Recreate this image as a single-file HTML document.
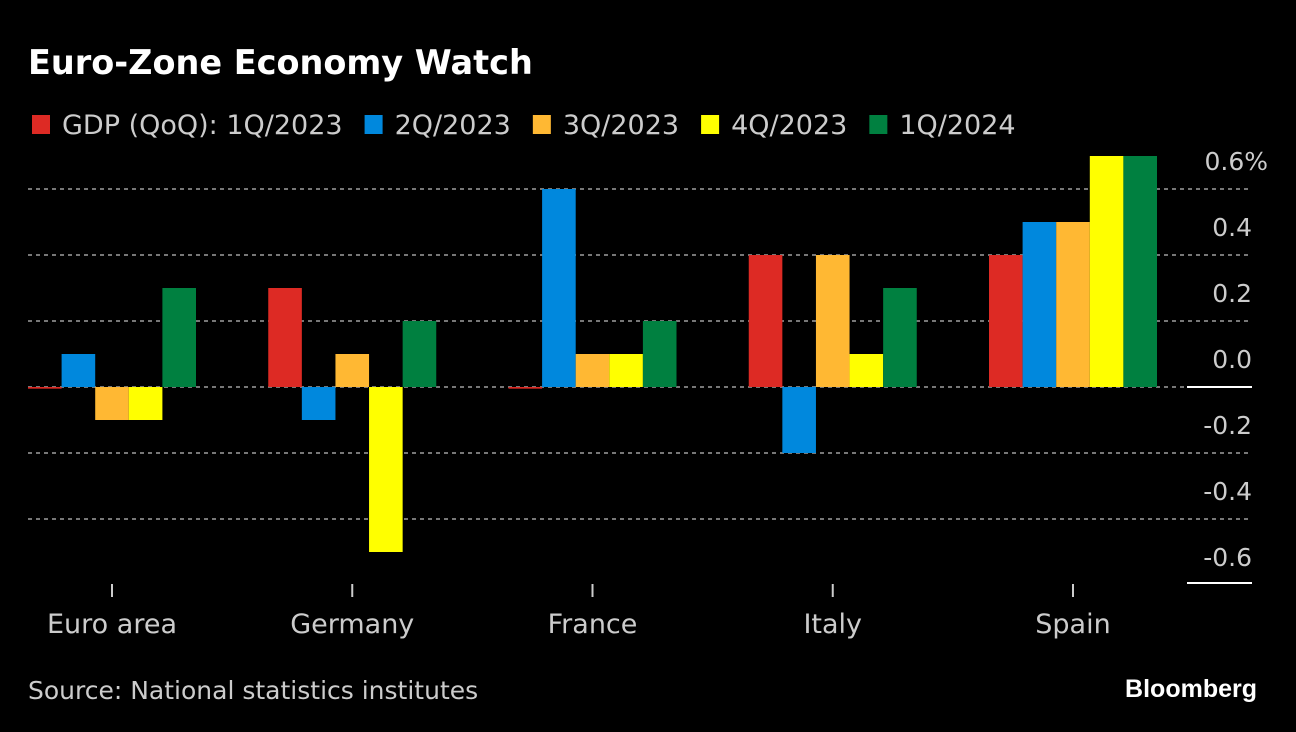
<!DOCTYPE html>
<html><head><meta charset="utf-8"><style>
body{margin:0;background:#000;width:1296px;height:732px;overflow:hidden;font-family:"Liberation Sans",sans-serif;}
svg{display:block;}
</style></head><body>
<svg width="1296" height="732" xmlns="http://www.w3.org/2000/svg">
<rect width="1296" height="732" fill="#000"/>
<text x="28" y="74" fill="#fff" font-size="33.5" font-weight="bold" font-family="DejaVu Sans, sans-serif">Euro-Zone Economy Watch</text>
<g id="legend"></g>
<g id="grid"></g>
<g id="bars"></g>
<g id="axes"></g>
<text x="28" y="699" fill="#ccc" font-size="25" font-family="DejaVu Sans, sans-serif">Source: National statistics institutes</text>
<text x="1257" y="697" fill="#fff" font-size="25" font-weight="bold" text-anchor="end">Bloomberg</text>
</svg>
<script>
const categories=["Euro area","Germany","France","Italy","Spain"];
const seriesNames=["GDP (QoQ): 1Q/2023","2Q/2023","3Q/2023","4Q/2023","1Q/2024"];
const s1Q23=[-0.005,0.3,-0.005,0.4,0.4];
const s2Q23=[0.1,-0.1,0.6,-0.2,0.5];
const s3Q23=[-0.1,0.1,0.1,0.4,0.5];
const s4Q23=[-0.1,-0.5,0.1,0.1,0.7];
const s1Q24=[0.3,0.2,0.2,0.3,0.7];
const yTicks=[0.6,0.4,0.2,0.0,-0.2,-0.4,-0.6];
const yTickLabels=["0.6%","0.4","0.2","0.0","-0.2","-0.4","-0.6"];
const series=[s1Q23,s2Q23,s3Q23,s4Q23,s1Q24];
const colors=["#dd2a24","#0088dd","#ffb833","#ffff00","#008040"];
const NS="http://www.w3.org/2000/svg";
function y(v){return 387-v*330;}
function gx(i){return 112+i*240.25;}
const bw=33.6;
function mk(t,a,p){const e=document.createElementNS(NS,t);for(const k in a)e.setAttribute(k,a[k]);document.getElementById(p).appendChild(e);return e;}
let lx=32;
seriesNames.forEach((n,i)=>{
 const r=mk('rect',{x:lx,y:115,width:18,height:19,fill:colors[i]},'legend');
 
 
 const t=mk('text',{x:lx+30,y:134,fill:'#ccc','font-size':27,'font-family':'DejaVu Sans, sans-serif'},'legend');
 t.textContent=n;
 
 
 lx+=30+t.getComputedTextLength()+22;
});
yTicks.forEach((v,i)=>{
 if(v===-0.6){
  const l=mk('line',{x1:1187,x2:1252,y1:y(v)-2,y2:y(v)-2,stroke:'#fff','stroke-width':2},'axes');
  
 } else if(v===0){
  const l=mk('line',{x1:28,x2:1187,y1:y(v),y2:y(v),stroke:'#777','stroke-width':2,'stroke-dasharray':'4 4'},'grid');
  
  const l2=mk('line',{x1:1187,x2:1252,y1:y(v),y2:y(v),stroke:'#fff','stroke-width':2},'axes');
  
 } else {
  const l=mk('line',{x1:28,x2:1252,y1:y(v),y2:y(v),stroke:'#777','stroke-width':2,'stroke-dasharray':'4 4'},'grid');
  
 }
 const t=mk('text',{x:v===0.6?1268:1252,y:y(v)-19,fill:'#ccc','font-size':25,'text-anchor':'end','font-family':'DejaVu Sans, sans-serif'},'axes');
 t.textContent=yTickLabels[i];
 
});
categories.forEach((c,i)=>{
 series.forEach((s,j)=>{
  const v=s[i];const x=gx(i)-2.5*bw+j*bw;
  const y0=Math.min(y(v),y(0)),h=Math.max(Math.abs(y(v)-y(0)),1.5);
  const r=mk('rect',{x:x,y:y0,width:bw,height:h,fill:colors[j]},'bars');
  
 });
 const tk=mk('line',{x1:gx(i),x2:gx(i),y1:584,y2:597,stroke:'#ccc','stroke-width':2},'axes');
 
 const t=mk('text',{x:gx(i),y:633,fill:'#ccc','font-size':27,'text-anchor':'middle','font-family':'DejaVu Sans, sans-serif'},'axes');
 t.textContent=c;
 
});
</script>
</body></html>
